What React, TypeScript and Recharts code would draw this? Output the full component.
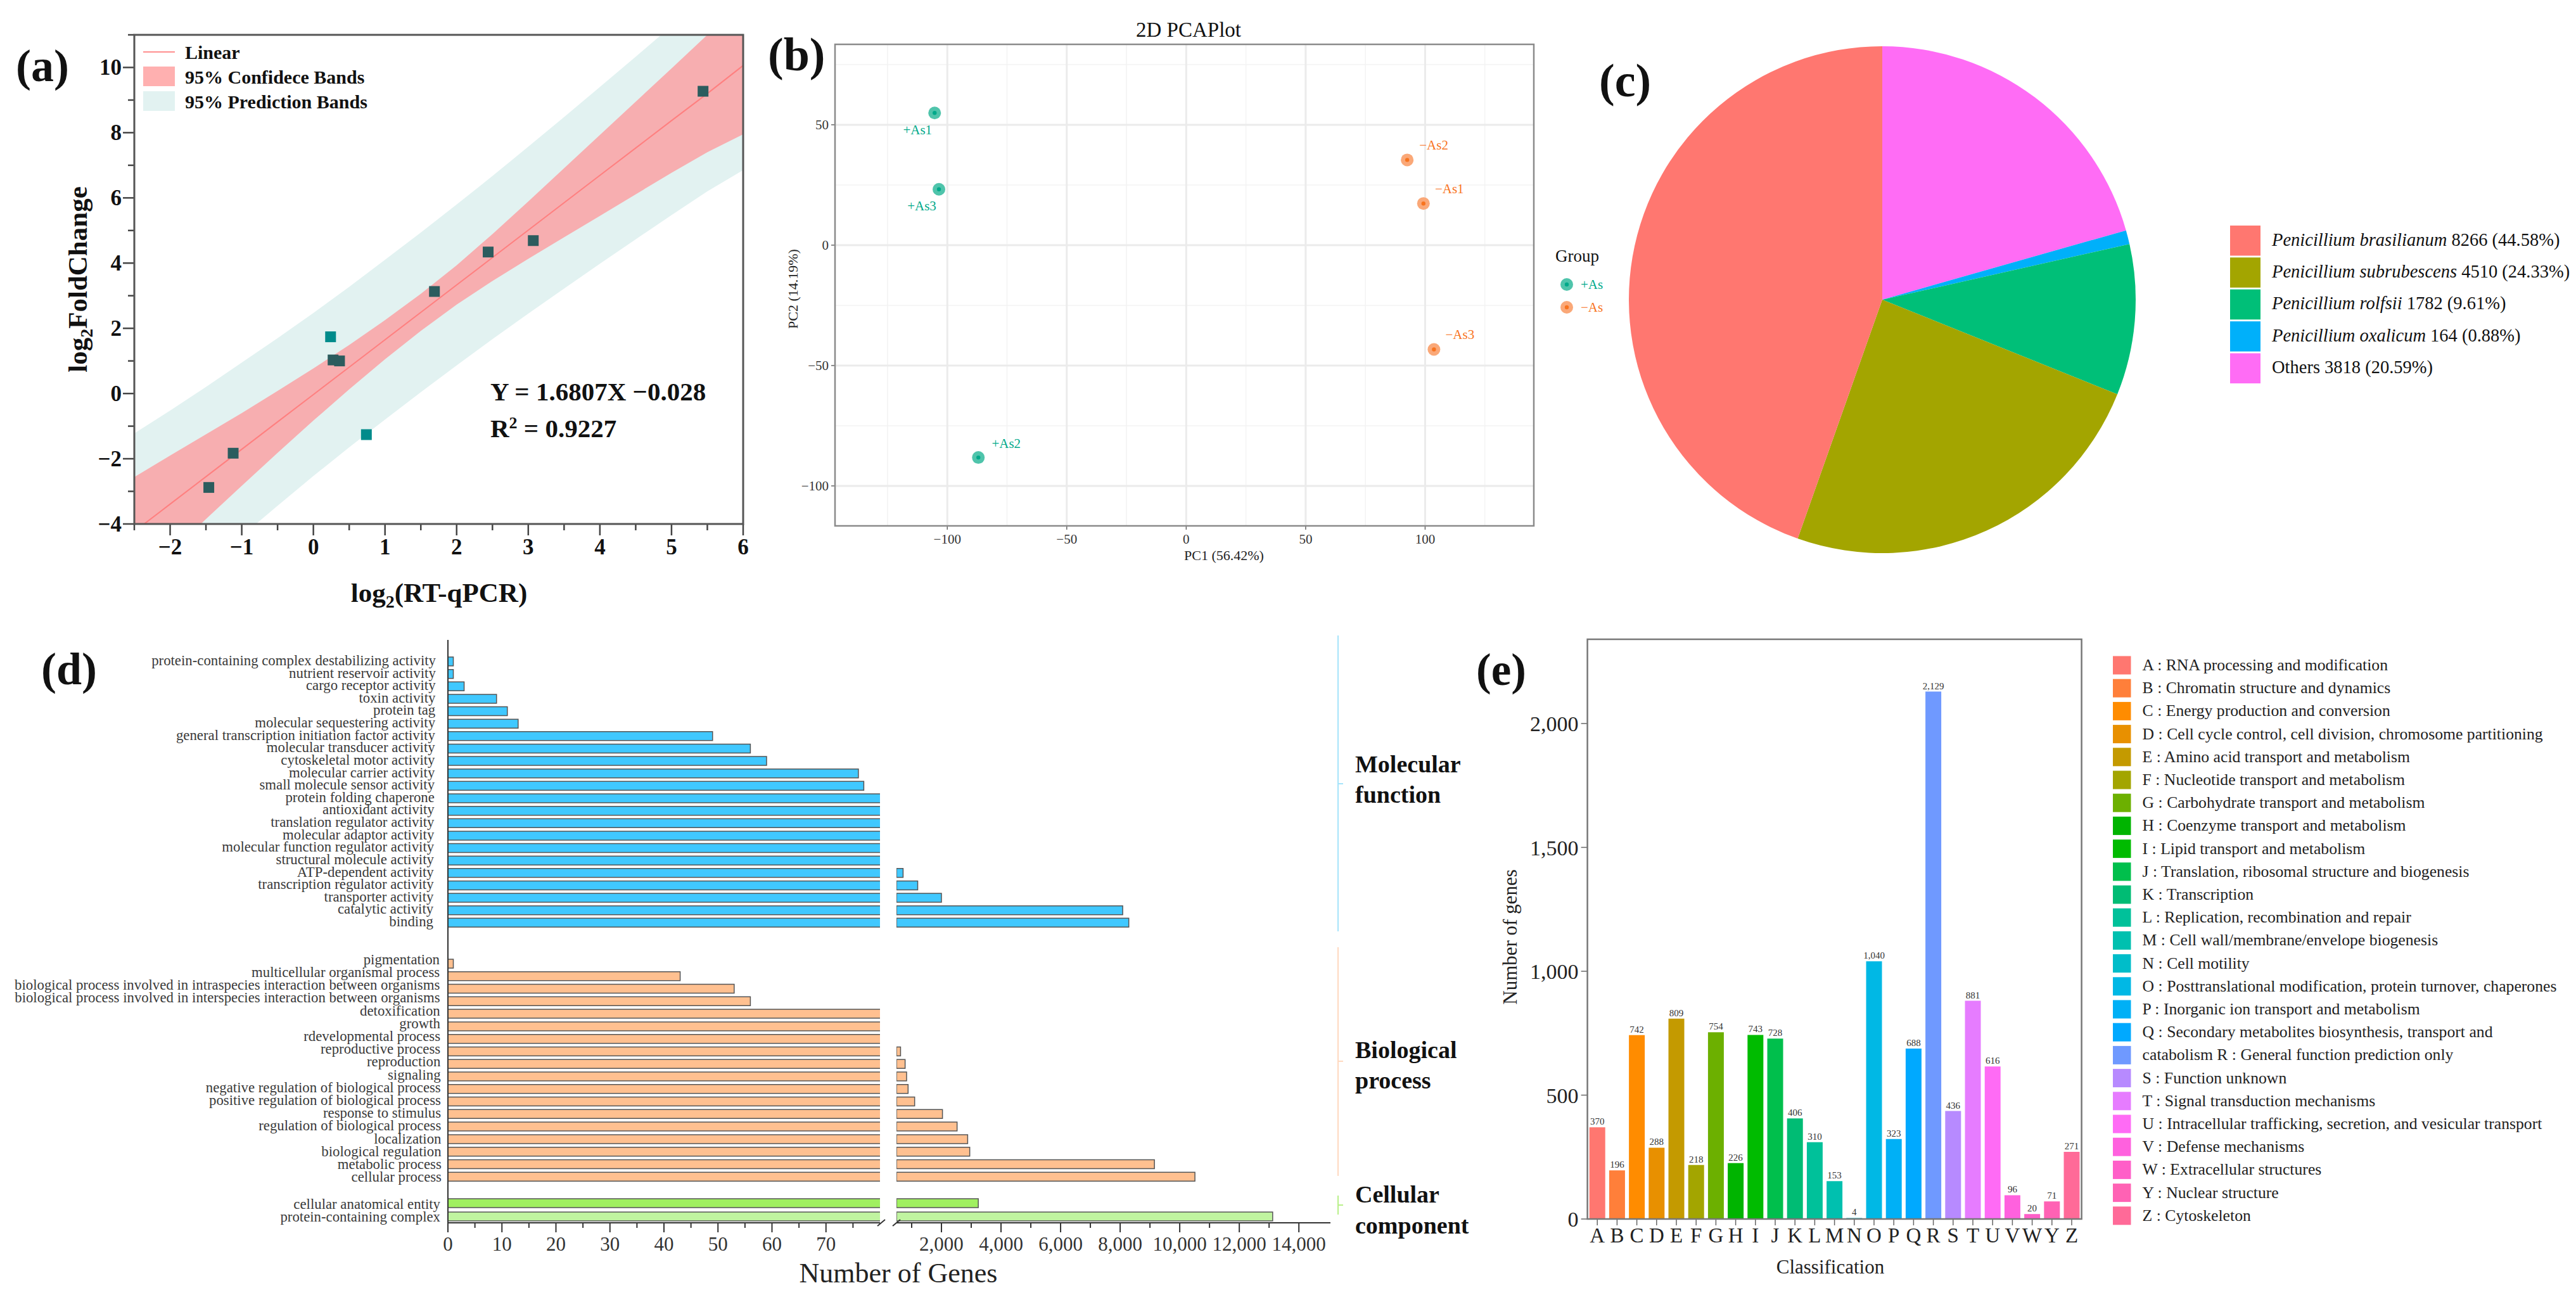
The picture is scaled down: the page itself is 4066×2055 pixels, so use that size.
import React from "react";
import {
  Area,
  Bar,
  BarChart,
  CartesianGrid,
  Cell,
  ComposedChart,
  LabelList,
  Line,
  Pie,
  PieChart,
  Scatter,
  ScatterChart,
  XAxis,
  YAxis,
} from "recharts";

const SERIF = "'Liberation Serif', serif";

// (a) regression
const fitX = [-2.5, -2, -1.5, -1, -0.5, 0, 0.5, 1, 1.5, 2, 2.5, 3, 3.5, 4, 4.5, 5, 5.5, 6];
const fitLine = [-4.23, -3.39, -2.55, -1.71, -0.87, -0.03, 0.81, 1.65, 2.49, 3.33, 4.17, 5.01, 5.85, 6.69, 7.53, 8.37, 9.2, 10.06];
const confUpper = [-2.56, -1.9, -1.25, -0.6, 0.08, 0.77, 1.49, 2.25, 3.06, 3.93, 4.89, 5.89, 6.91, 7.93, 8.95, 9.97, 11.0, 12.1];
const confLower = [-5.9, -4.89, -3.85, -2.83, -1.82, -0.83, 0.13, 1.05, 1.92, 2.73, 3.45, 4.13, 4.79, 5.45, 6.11, 6.77, 7.4, 7.95];
const predUpper = [-1.22, -0.52, 0.2, 0.95, 1.7, 2.47, 3.27, 4.1, 4.94, 5.8, 6.67, 7.57, 8.48, 9.4, 10.33, 11.27, 12.2, 13.2];
const predLower = [-7.2, -6.26, -5.3, -4.37, -3.44, -2.53, -1.65, -0.8, 0.04, 0.86, 1.67, 2.45, 3.22, 3.98, 4.73, 5.47, 6.2, 6.85];
const insidePoints = [
  { x: -1.46, y: -2.88 },
  { x: -1.12, y: -1.83 },
  { x: 0.275, y: 1.03 },
  { x: 0.365, y: 1.0 },
  { x: 1.69, y: 3.13 },
  { x: 2.44, y: 4.34 },
  { x: 3.07, y: 4.69 },
  { x: 5.44, y: 9.27 },
];
const outsidePoints = [
  { x: 0.24, y: 1.74 },
  { x: 0.74, y: -1.26 },
];
const fitRows = fitX.map((x, i) => ({
  x,
  line: fitLine[i],
  conf: [confLower[i], confUpper[i]],
  pred: [predLower[i], predUpper[i]],
}));

// (b) PCA
const plusSamples = [
  { name: "+As1", x: -105.3, y: 54.9 },
  { name: "+As3", x: -103.5, y: 23.2 },
  { name: "+As2", x: -87, y: -88.2 },
];
const minusSamples = [
  { name: "\u2212As2", x: 92.5, y: 35.4 },
  { name: "\u2212As1", x: 99.3, y: 17.3 },
  { name: "\u2212As3", x: 103.7, y: -43.3 },
];
const pcaLabelShift: Record<string, number[]> = {
  "+As1": [-27, 27],
  "+As3": [-27, 26],
  "+As2": [44, -22],
  "\u2212As2": [42, -23],
  "\u2212As1": [41, -23],
  "\u2212As3": [41, -23],
};

// (c) species share
const speciesNames = ["Penicillium brasilianum", "Penicillium subrubescens", "Penicillium rolfsii", "Penicillium oxalicum", "Others"];
const speciesCounts = [8266, 4510, 1782, 164, 3818];
const speciesShare = ["44.58%", "24.33%", "9.61%", "0.88%", "20.59%"];
const speciesColors = ["#FF7770", "#A3A500", "#00BF78", "#00B0FA", "#FF6CF5"];

// (d) GO terms
const mfNames = [
  "protein-containing complex destabilizing activity", "nutrient reservoir activity", "cargo receptor activity", "toxin activity",
  "protein tag", "molecular sequestering activity", "general transcription initiation factor activity", "molecular transducer activity",
  "cytoskeletal motor activity", "molecular carrier activity", "small molecule sensor activity", "protein folding chaperone",
  "antioxidant activity", "translation regulator activity", "molecular adaptor activity", "molecular function regulator activity",
  "structural molecule activity", "ATP-dependent activity", "transcription regulator activity", "transporter activity",
  "catalytic activity", "binding",
];
const mfCounts = [1, 1, 3, 9, 11, 13, 49, 56, 59, 76, 77, 100, 130, 160, 200, 260, 330, 712, 1203, 2000, 8085, 8290];
const bpNames = [
  "pigmentation", "multicellular organismal process", "biological process involved in intraspecies interaction between organisms",
  "biological process involved in interspecies interaction between organisms", "detoxification", "growth", "rdevelopmental process",
  "reproductive process", "reproduction", "signaling", "negative regulation of biological process",
  "positive regulation of biological process", "response to stimulus", "regulation of biological process", "localization",
  "biological regulation", "metabolic process", "cellular process",
];
const bpCounts = [1, 43, 53, 56, 120, 230, 400, 627, 780, 830, 880, 1100, 2034, 2525, 2880, 2950, 9150, 10510];
const ccNames = ["cellular anatomical entity", "protein-containing complex"];
const ccCounts = [3237, 13120];
const lowTicks = [0, 5, 10, 15, 20, 25, 30, 35, 40, 45, 50, 55, 60, 65, 70, 75];
const highTicks = [1000, 2000, 3000, 4000, 5000, 6000, 7000, 8000, 9000, 10000, 11000, 12000, 13000, 14000];

// (e) COG classes
const cogLetters = ["A", "B", "C", "D", "E", "F", "G", "H", "I", "J", "K", "L", "M", "N", "O", "P", "Q", "R", "S", "T", "U", "V", "W", "Y", "Z"];
const cogCounts = [370, 196, 742, 288, 809, 218, 754, 226, 743, 728, 406, 310, 153, 4, 1040, 323, 688, 2129, 436, 881, 616, 96, 20, 71, 271];
const cogColors = [
  "#FF7770", "#FF7F3A", "#FF8C00", "#E89000", "#C49A00", "#A3A500", "#6CB000", "#00B400", "#00BB00", "#00BF4C", "#00BC74", "#00C19A", "#00C0AF",
  "#00BDC9", "#00B8E5", "#00B0F6", "#00A9FF", "#6F99FF", "#B78AFF", "#E67CFF", "#FF6BF5", "#FF61DE", "#FF5FC8", "#FF62B4", "#FF6A98",
];
const cogLegend = [
  "A : RNA processing and modification", "B : Chromatin structure and dynamics", "C : Energy production and conversion",
  "D : Cell cycle control, cell division, chromosome partitioning", "E : Amino acid transport and metabolism", "F : Nucleotide transport and metabolism",
  "G : Carbohydrate transport and metabolism", "H : Coenzyme transport and metabolism", "I : Lipid transport and metabolism",
  "J : Translation, ribosomal structure and biogenesis", "K : Transcription", "L : Replication, recombination and repair",
  "M : Cell wall/membrane/envelope biogenesis", "N : Cell motility", "O : Posttranslational modification, protein turnover, chaperones",
  "P : Inorganic ion transport and metabolism", "Q : Secondary metabolites biosynthesis, transport and", "catabolism R : General function prediction only",
  "S : Function unknown", "T : Signal transduction mechanisms", "U : Intracellular trafficking, secretion, and vesicular transport",
  "V : Defense mechanisms", "W : Extracellular structures", "Y : Nuclear structure", "Z : Cytoskeleton",
];

const minus = (v: number) => String(v).replace("-", "\u2212");
const thousands = (v: number) => v.toLocaleString("en-US");

function place(left: number, top: number): React.CSSProperties {
  return { position: "absolute", left, top };
}

// tick with a long mark and a label on major values, short mark otherwise
function bottomTick(isMajor: (v: number) => boolean, format: (v: number) => string, o: any) {
  return (p: any) => {
    const v = p.payload.value;
    const major = isMajor(v);
    return (
      <g>
        <line x1={p.x} x2={p.x} y1={p.y} y2={p.y + (major ? o.long : o.short)} stroke={o.stroke} strokeWidth={o.width} />
        {major && (
          <text x={p.x} y={p.y + o.textY} textAnchor="middle" dominantBaseline="central" fontSize={o.size} fontWeight={o.weight} fill={o.fill} fontFamily={SERIF}>
            {format(v)}
          </text>
        )}
      </g>
    );
  };
}

function leftTick(isMajor: (v: number) => boolean, format: (v: number) => string, o: any) {
  return (p: any) => {
    const v = p.payload.value;
    const major = isMajor(v);
    return (
      <g>
        <line x1={p.x} x2={p.x - (major ? o.long : o.short)} y1={p.y} y2={p.y} stroke={o.stroke} strokeWidth={o.width} />
        {major && (
          <text x={p.x - o.textX} y={p.y} textAnchor="end" dominantBaseline="central" fontSize={o.size} fontWeight={o.weight} fill={o.fill} fontFamily={SERIF}>
            {format(v)}
          </text>
        )}
      </g>
    );
  };
}

const squareMark = (fill: string) => (p: any) => <rect x={p.cx - 8.5} y={p.cy - 8.5} width={17} height={17} fill={fill} />;

const pcaMark = (ring: string, dot: string) => (p: any) => {
  const shift = pcaLabelShift[p.payload.name];
  return (
    <g>
      <circle cx={p.cx} cy={p.cy} r={10} fill={ring} />
      <circle cx={p.cx} cy={p.cy} r={3.2} fill={dot} />
      <text x={p.cx + shift[0]} y={p.cy + shift[1]} textAnchor="middle" dominantBaseline="central" fontSize={21} fill={dot} fontFamily={SERIF}>
        {p.payload.name}
      </text>
    </g>
  );
};

function RegressionPanel() {
  const o = { long: 18, short: 10, stroke: "#444", width: 2.5, size: 35, weight: 700, fill: "#111", textY: 36, textX: 20 };
  return (
    <div style={place(0, 0)}>
      <ComposedChart width={1200} height={900} data={fitRows} margin={{ top: 55, right: 27, left: 0, bottom: 0 }}>
        <XAxis
          type="number"
          dataKey="x"
          domain={[-2.5, 6]}
          allowDataOverflow
          ticks={[-2.5, -2, -1.5, -1, -0.5, 0, 0.5, 1, 1.5, 2, 2.5, 3, 3.5, 4, 4.5, 5, 5.5, 6]}
          height={73}
          interval={0}
          tickSize={0}
          tickMargin={0}
          axisLine={false}
          tick={bottomTick((v) => Number.isInteger(v), minus, o)}
        />
        <YAxis
          type="number"
          domain={[-4, 11]}
          allowDataOverflow
          ticks={[-4, -3, -2, -1, 0, 1, 2, 3, 4, 5, 6, 7, 8, 9, 10, 11]}
          width={212}
          interval={0}
          tickSize={0}
          tickMargin={0}
          axisLine={false}
          tick={leftTick((v) => v % 2 === 0, minus, o)}
        />
        <Area dataKey="pred" type="linear" fill="#E2F2F1" fillOpacity={1} stroke="none" isAnimationActive={false} />
        <Area dataKey="conf" type="linear" fill="#F7AEB0" fillOpacity={1} stroke="none" isAnimationActive={false} />
        <Line dataKey="line" type="linear" stroke="#FF7F7F" strokeWidth={2} dot={false} isAnimationActive={false} />
        <Scatter data={insidePoints} dataKey="y" shape={squareMark("#2C5C5E")} isAnimationActive={false} />
        <Scatter data={outsidePoints} dataKey="y" shape={squareMark("#008B8B")} isAnimationActive={false} />
      </ComposedChart>
    </div>
  );
}

function PcaPanel() {
  const o = { long: 6, short: 6, stroke: "#666", width: 1.5, size: 21, weight: 400, fill: "#333", textY: 21, textX: 10 };
  return (
    <div style={place(1200, 0)}>
      <ScatterChart width={1240} height={900} margin={{ top: 70, right: 19, left: 0, bottom: 0 }}>
        <CartesianGrid stroke="#F3F3F3" strokeWidth={1.5} verticalValues={[-125, -75, -25, 25, 75, 125]} horizontalValues={[75, 25, -25, -75]} />
        <CartesianGrid stroke="#EBEBEB" strokeWidth={3} verticalValues={[-100, -50, 0, 50, 100]} horizontalValues={[50, 0, -50, -100]} />
        <XAxis
          type="number"
          dataKey="x"
          domain={[-147, 145.5]}
          allowDataOverflow
          ticks={[-100, -50, 0, 50, 100]}
          height={70}
          tickSize={0}
          tickMargin={0}
          axisLine={false}
          tick={bottomTick(() => true, minus, o)}
        />
        <YAxis
          type="number"
          dataKey="y"
          domain={[-116.6, 83.4]}
          allowDataOverflow
          ticks={[-100, -50, 0, 50]}
          width={118}
          tickSize={0}
          tickMargin={0}
          axisLine={false}
          tick={leftTick(() => true, minus, o)}
        />
        <Scatter data={plusSamples} shape={pcaMark("#4FC4AB", "#00A98A")} isAnimationActive={false} />
        <Scatter data={minusSamples} shape={pcaMark("#FAA878", "#F8731E")} isAnimationActive={false} />
      </ScatterChart>
    </div>
  );
}

function SpeciesPie() {
  // drawn clockwise from twelve o'clock, so the order runs back from Others
  const order = [4, 3, 2, 1, 0];
  const rows = order.map((i) => ({ name: speciesNames[i], value: speciesCounts[i], color: speciesColors[i] }));
  return (
    <div style={place(2520, 20)}>
      <PieChart width={900} height={900} margin={{ top: 0, right: 0, left: 0, bottom: 0 }}>
        <Pie data={rows} dataKey="value" cx={451} cy={453} outerRadius={400} startAngle={90} endAngle={-270} stroke="none" isAnimationActive={false}>
          {rows.map((r) => (
            <Cell key={r.name} fill={r.color} />
          ))}
        </Pie>
      </PieChart>
    </div>
  );
}

// term labels sit slightly off their bars in the figure, the drift runs from first to last row
const termTick = (count: number, right: number[], drift: number[]) => (p: any) => {
  const t = count > 1 ? p.index / (count - 1) : 0;
  return (
    <text
      x={right[0] + (right[1] - right[0]) * t}
      y={p.y + drift[0] + (drift[1] - drift[0]) * t}
      textAnchor="end"
      dominantBaseline="central"
      fontSize={22.8}
      fill="#3A3A3A"
      fontFamily={SERIF}
    >
      {p.payload.value}
    </text>
  );
};

function GoBars({ names, counts, colors, top, height, showAxis, labelRight, labelDrift }: any) {
  const rows = names.map((name: string, i: number) => ({
    name,
    low: counts[i],
    high: counts[i] >= 490 ? counts[i] : null,
  }));
  const o = { long: 15, short: 8, stroke: "#333", width: 2, size: 31, weight: 400, fill: "#333", textY: 33 };
  const axisSpace = showAxis ? 110 : 0;
  const pad = 24;
  const bottomPad = showAxis ? 0 : pad;
  return (
    <>
      <div style={place(0, top - pad)}>
        <BarChart
          layout="vertical"
          width={1389}
          height={height + axisSpace + pad + bottomPad}
          data={rows}
          margin={{ top: pad, right: 0, left: 0, bottom: bottomPad }}
          barCategoryGap={0}
        >
          <XAxis
            type="number"
            domain={[0, 80]}
            allowDataOverflow
            ticks={lowTicks}
            interval={0}
            hide={!showAxis}
            height={axisSpace}
            tickSize={0}
            tickMargin={0}
            axisLine={{ stroke: "#333", strokeWidth: 2 }}
            tick={bottomTick((v) => v % 10 === 0, String, o)}
          />
          <YAxis
            type="category"
            dataKey="name"
            width={707}
            interval={0}
            tickSize={0}
            tickMargin={0}
            axisLine={false}
            tick={termTick(names.length, labelRight, labelDrift)}
          />
          <Bar dataKey="low" barSize={14} stroke="#555" strokeWidth={1.5} isAnimationActive={false}>
            {rows.map((r: any, i: number) => (
              <Cell key={r.name} fill={colors[i % colors.length]} />
            ))}
          </Bar>
        </BarChart>
      </div>
      <div style={place(1415, top - pad)}>
        <BarChart
          layout="vertical"
          width={700}
          height={height + axisSpace + pad + bottomPad}
          data={rows}
          margin={{ top: pad, right: 15, left: 0, bottom: bottomPad }}
          barCategoryGap={0}
        >
          <XAxis
            type="number"
            domain={[490, 15060]}
            allowDataOverflow
            ticks={highTicks}
            interval={0}
            hide={!showAxis}
            height={axisSpace}
            tickSize={0}
            tickMargin={0}
            axisLine={{ stroke: "#333", strokeWidth: 2 }}
            tick={bottomTick((v) => v % 2000 === 0, thousands, o)}
          />
          <YAxis type="category" dataKey="name" hide />
          <Bar dataKey="high" barSize={14} stroke="#555" strokeWidth={1.5} isAnimationActive={false}>
            {rows.map((r: any, i: number) => (
              <Cell key={r.name} fill={colors[i % colors.length]} />
            ))}
          </Bar>
        </BarChart>
      </div>
    </>
  );
}

function CogPanel() {
  const rows = cogLetters.map((letter, i) => ({ letter, value: cogCounts[i] }));
  const axisText = { fill: "#222", fontFamily: SERIF };
  return (
    <div style={place(2330, 1000)}>
      <BarChart width={970} height={1050} data={rows} margin={{ top: 9, right: 14.4, left: 0, bottom: 0 }} barCategoryGap="10%">
        <XAxis
          dataKey="letter"
          interval={0}
          height={126}
          tickSize={10}
          tickMargin={4}
          axisLine={false}
          tickLine={{ stroke: "#666", strokeWidth: 1.5 }}
          tick={{ ...axisText, fontSize: 33 }}
        />
        <YAxis
          type="number"
          domain={[0, 2340]}
          ticks={[0, 500, 1000, 1500, 2000]}
          width={175.6}
          tickSize={10}
          tickMargin={4}
          axisLine={false}
          tickLine={{ stroke: "#666", strokeWidth: 1.5 }}
          tickFormatter={thousands}
          tick={{ ...axisText, fontSize: 34 }}
        />
        <Bar dataKey="value" isAnimationActive={false}>
          {rows.map((r, i) => (
            <Cell key={r.letter} fill={cogColors[i]} />
          ))}
          <LabelList dataKey="value" position="top" offset={4} formatter={(v: any) => thousands(Number(v))} fontSize={15} fill="#333" fontFamily={SERIF} />
        </Bar>
      </BarChart>
    </div>
  );
}

// frames, legends, panel letters and other annotation text
function Overlay() {
  const letters = [
    ["(a)", 25, 128, 72],
    ["(b)", 1212, 111, 74],
    ["(c)", 2524, 152, 74],
    ["(d)", 65, 1080, 72],
    ["(e)", 2330, 1081, 71],
  ];
  const bold = { fontWeight: 700, fill: "#111" };
  return (
    <svg width={4066} height={2055} style={{ ...place(0, 0), pointerEvents: "none" }} fontFamily={SERIF}>
      {letters.map(([t, x, y, s]) => (
        <text key={t as string} x={x as number} y={y as number} fontSize={s as number} {...bold}>
          {t}
        </text>
      ))}

      {/* a */}
      <rect x={212} y={55} width={961} height={772} fill="none" stroke="#555" strokeWidth={3} />
      <line x1={226} x2={276} y1={82} y2={82} stroke="#FF8F8F" strokeWidth={2} />
      <rect x={226} y={105} width={50} height={31} fill="#FFB0B0" />
      <rect x={226} y={144} width={50} height={31} fill="#E2F2F1" />
      <text x={292} y={93} fontSize={30} {...bold}>Linear</text>
      <text x={292} y={132} fontSize={30} {...bold}>95% Confidece Bands</text>
      <text x={292} y={171} fontSize={30} {...bold}>95% Prediction Bands</text>
      <text x={774} y={632} fontSize={41} {...bold}>Y = 1.6807X {"\u2212"}0.028</text>
      <text x={774} y={690} fontSize={41} {...bold}>
        R<tspan dy={-14} fontSize={26}>2</tspan>
        <tspan dy={14}> = 0.9227</tspan>
      </text>
      <text x={693} y={950} fontSize={43} textAnchor="middle" {...bold}>
        log<tspan dy={9} fontSize={28}>2</tspan>
        <tspan dy={-9}>(RT-qPCR)</tspan>
      </text>
      <text transform="translate(137,441) rotate(-90)" fontSize={43} textAnchor="middle" {...bold}>
        log<tspan dy={9} fontSize={28}>2</tspan>
        <tspan dy={-9}>FoldChange</tspan>
      </text>

      {/* b */}
      <rect x={1318} y={70} width={1103} height={760} fill="none" stroke="#8A8A8A" strokeWidth={2.5} />
      <text x={1876} y={58} fontSize={33} textAnchor="middle" fill="#111">2D PCAPlot</text>
      <text x={1932} y={884} fontSize={22} textAnchor="middle" fill="#222">PC1 (56.42%)</text>
      <text transform="translate(1259,456) rotate(-90)" fontSize={22} textAnchor="middle" fill="#222">PC2 (14.19%)</text>
      <text x={2455} y={413} fontSize={27} fill="#111">Group</text>
      <circle cx={2473} cy={449} r={10} fill="#4FC4AB" />
      <circle cx={2473} cy={449} r={3.2} fill="#00A98A" />
      <circle cx={2473} cy={485} r={10} fill="#FAA878" />
      <circle cx={2473} cy={485} r={3.2} fill="#F8731E" />
      <text x={2495} y={456} fontSize={21} fill="#00A98A">+As</text>
      <text x={2495} y={492} fontSize={21} fill="#F8731E">{"\u2212"}As</text>

      {/* c */}
      {speciesNames.map((name, i) => (
        <g key={name}>
          <rect x={3520} y={356 + i * 50.4} width={48} height={47.5} fill={speciesColors[i]} />
          <text x={3586} y={388 + i * 50.2} fontSize={28.5} fill="#111">
            <tspan fontStyle={name === "Others" ? "normal" : "italic"}>{name}</tspan> {speciesCounts[i]} ({speciesShare[i]})
          </text>
        </g>
      ))}

      {/* d */}
      <line x1={707} x2={707} y1={1010} y2={1930} stroke="#333" strokeWidth={2} />
      <line x1={1385} x2={1397} y1={1935} y2={1925} stroke="#333" strokeWidth={2} />
      <line x1={1409} x2={1421} y1={1935} y2={1925} stroke="#333" strokeWidth={2} />
      <path d="M2112 1003V1470M2112 1237h8" stroke="#A6E4FB" strokeWidth={2} fill="none" />
      <path d="M2112 1495V1856M2112 1675h8" stroke="#FFD9C0" strokeWidth={2} fill="none" />
      <path d="M2112 1887V1917M2112 1902h8" stroke="#B9F08A" strokeWidth={2} fill="none" />
      <text x={2139} y={1219} fontSize={38} {...bold}>Molecular</text>
      <text x={2139} y={1267} fontSize={38} {...bold}>function</text>
      <text x={2139} y={1670} fontSize={38} {...bold}>Biological</text>
      <text x={2139} y={1718} fontSize={38} {...bold}>process</text>
      <text x={2139} y={1898} fontSize={38} {...bold}>Cellular</text>
      <text x={2139} y={1947} fontSize={38} {...bold}>component</text>
      <text x={1418} y={2024} fontSize={44} textAnchor="middle" fill="#222">Number of Genes</text>

      {/* e */}
      <rect x={2505.6} y={1009} width={780} height={915} fill="none" stroke="#777" strokeWidth={2.5} />
      <text transform="translate(2394,1479) rotate(-90)" fontSize={31} textAnchor="middle" fill="#222">Number of genes</text>
      <text x={2889} y={2010} fontSize={31} textAnchor="middle" fill="#222">Classification</text>
      {cogLegend.map((t, i) => (
        <g key={t}>
          <rect x={3335} y={1035.5 + i * 36.2} width={28.5} height={29} fill={cogColors[i]} />
          <text x={3381.6} y={1058 + i * 36.2} fontSize={25.7} fill="#222">{t}</text>
        </g>
      ))}
    </svg>
  );
}

export default function App() {
  const mfColor = ["#40C8FF"];
  const bpColor = ["#FFC090"];
  const ccColor = ["#A0F060", "#C0F4A0"];
  return (
    <div style={{ position: "absolute", left: 0, top: 0, width: 4066, height: 2055, overflow: "hidden", background: "#fff", fontFamily: SERIF }}>
      <RegressionPanel />
      <PcaPanel />
      <SpeciesPie />
      <GoBars names={mfNames} counts={mfCounts} colors={mfColor} top={1034} height={432} labelRight={[688, 684]} labelDrift={[-1.4, -1.6]} />
      <GoBars names={bpNames} counts={bpCounts} colors={bpColor} top={1511} height={356} labelRight={[694, 697]} labelDrift={[-6.6, 0.7]} />
      <GoBars names={ccNames} counts={ccCounts} colors={ccColor} top={1887.5} height={42} labelRight={[695, 695]} labelDrift={[1.8, 1]} showAxis />
      <CogPanel />
      <Overlay />
    </div>
  );
}
